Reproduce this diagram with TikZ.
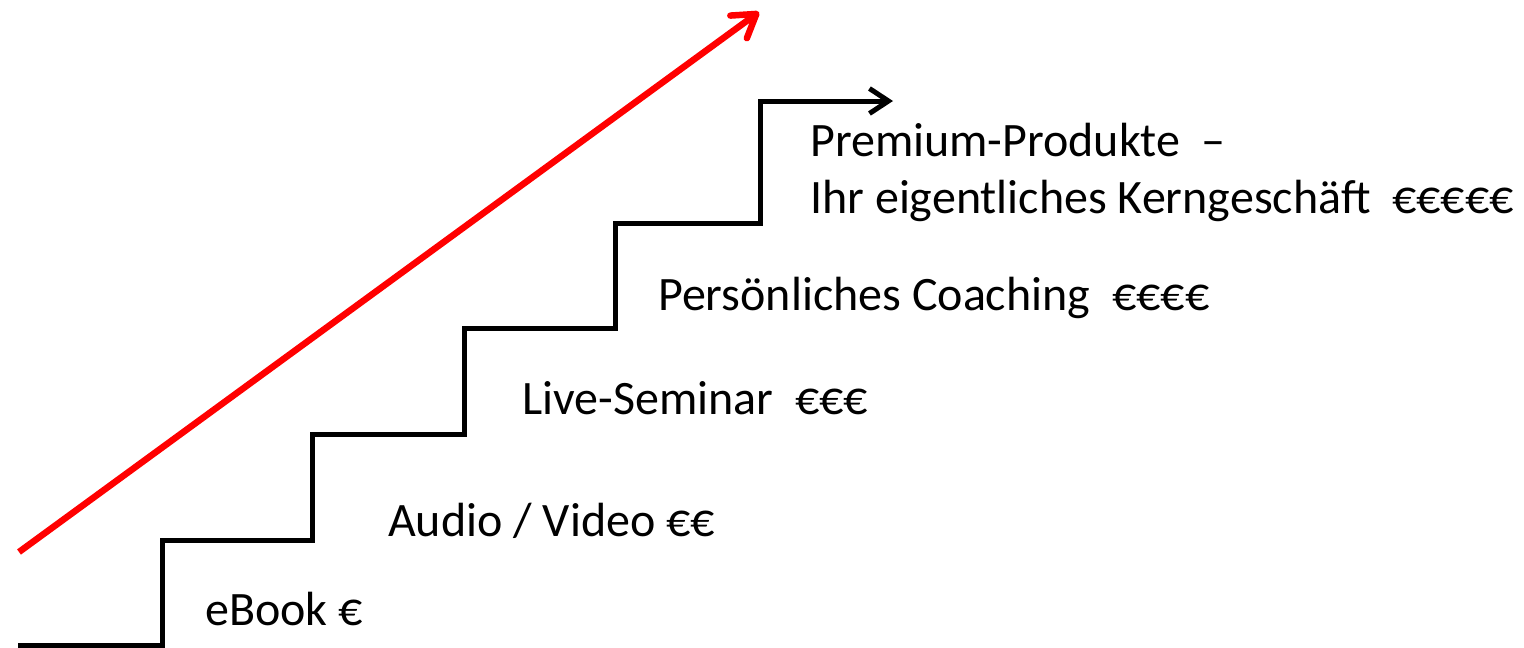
\documentclass[tikz,border=0pt]{standalone}
\usepackage{fontspec}
\setmainfont{Carlito}
\usetikzlibrary{arrows.meta}
\begin{document}
\begin{tikzpicture}[x=1pt,y=-1pt,
  lbl/.style={anchor=base west,inner sep=0pt,font=\fontsize{48}{57}\selectfont},
  stair/.style={line width=5pt,line join=miter,black,-{Straight Barb[length=19pt,width=25pt]}},
  growth/.style={line width=6.5pt,red,-{Straight Barb[length=22pt,width=28pt,round]}}]
\useasboundingbox (0,0) rectangle (1524,648);
\coordinate (s0) at (18,645.5);
\coordinate (s1) at (162,645.5);
\coordinate (s2) at (162,540);
\coordinate (s3) at (312.5,540);
\coordinate (s4) at (312.5,434.5);
\coordinate (s5) at (464,434.5);
\coordinate (s6) at (464,328.5);
\coordinate (s7) at (615,328.5);
\coordinate (s8) at (615,223);
\coordinate (s9) at (760,223);
\coordinate (s10) at (760,101);
\coordinate (s11) at (893,101);
\draw[stair] (s0) -- (s1) -- (s2) -- (s3) -- (s4) -- (s5) -- (s6) -- (s7) -- (s8) -- (s9) -- (s10) -- (s11);
\coordinate (r0) at (19,552);
\coordinate (r1) at (759,12);
\draw[growth] (r0) -- (r1);
\node[lbl] (t1) at (205,625) {eBook €};
\node[lbl] (t2) at (388,536) {Audio / Video €€};
\node[lbl] (t3) at (522,414) {Live-Seminar\ \ €€€};
\node[lbl] (t4) at (658,310) {Persönliches Coaching\ \ €€€€};
\node[lbl] (t5) at (810,156) {Premium-Produkte\ \ –};
\node[lbl] (t6) at (810,213) {Ihr eigentliches Kerngeschäft\ \ €€€€€};
\end{tikzpicture}
\end{document}
